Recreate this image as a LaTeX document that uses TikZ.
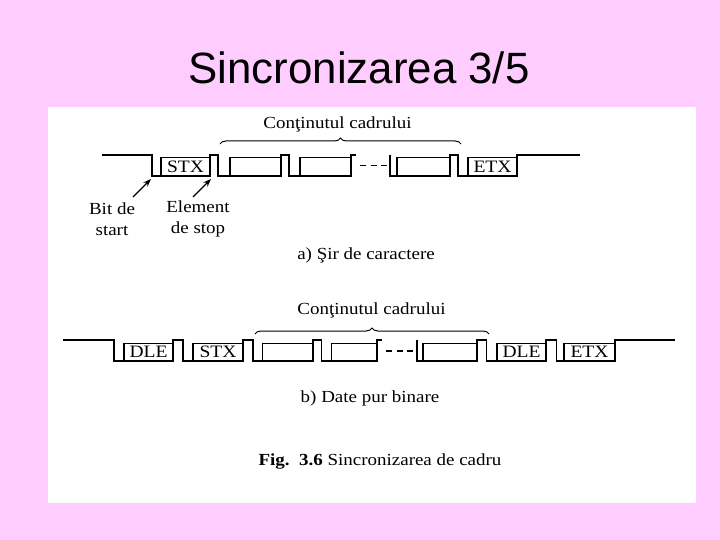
\documentclass[tikz,border=0pt]{standalone}
\usepackage{fontspec}
\setmainfont{Liberation Serif}
\newfontfamily\figfont{Liberation Serif}[FakeStretch=1.12]
\newfontfamily\titlefont{Liberation Sans}
\usetikzlibrary{arrows.meta,decorations.pathreplacing}
\definecolor{slidepink}{RGB}{255,204,255}
\newcommand\cbox[6]{\node[chbox, minimum width={#3-#2}, minimum height={#5-#4}] (#1) at ({(#2+#3)/2},{(#4+#5)/2}) {#6};}
\begin{document}
\begin{tikzpicture}[x=1bp,y=-1bp,
  sig/.style={line width=1.4bp, black, line join=miter},
  chbox/.style={draw, line width=1.4bp, inner sep=0pt, font=\figfont\fontsize{17.5}{20}\selectfont},
  lbl/.style={font=\figfont\fontsize{17}{21}\selectfont, align=center, inner sep=0pt},
  dots/.style={line width=1.4bp, dash pattern=on 6bp off 4.5bp},
  brc/.style={decorate, decoration={brace, amplitude=6bp}, line width=1bp},
  arr/.style={line width=1.2bp, -{Stealth[length=8bp,width=6bp]}}]
\useasboundingbox (0,0) rectangle (720,540);
\fill[slidepink] (0,0) rectangle (720,540);
\fill[white] (48,107) rectangle (696,503);
\node[font=\titlefont\fontsize{44}{50}\selectfont] (title) at (359,68) {Sincronizarea 3/5};

% ---------- row a ----------
\draw[sig] (101.7,155) -- (152,155) -- (152,176) -- (161,176);
\cbox{a1}{161}{210}{157.5}{176}{STX}
\draw[sig] (210,176) -- (210,155) -- (218,155) -- (218,176) -- (230,176);
\cbox{a2}{230}{281}{157.5}{176}{}
\draw[sig] (281,176) -- (281,155) -- (289,155) -- (289,176) -- (300,176);
\cbox{a3}{300}{351}{157.5}{176}{}
\draw[sig] (351,176) -- (351,155) -- (356,155);
\draw[dots] (360,165.5) -- (387,165.5);
\draw[sig] (390,155) -- (390,176) -- (397,176);
\cbox{a4}{397}{450}{157.5}{176}{}
\draw[sig] (450,176) -- (450,155) -- (458,155) -- (458,176) -- (468,176);
\cbox{a5}{468}{517}{157.5}{176}{ETX}
\draw[sig] (517,176) -- (517,155) -- (580,155);
\draw[brc] (220,144) -- (461,144);
\node[lbl] (conta) at (337.5,124) {Conţinutul cadrului};
\node[lbl] (bit) at (112,219) {Bit de\\start};
\node[lbl] (elem) at (198,219) {Element\\de stop};
\coordinate (bitt) at (133,197);
\coordinate (bith) at (151,179);
\coordinate (elt) at (193,197);
\coordinate (elh) at (211,179);
\draw[arr] (bitt) -- (bith);
\draw[arr] (elt) -- (elh);
\node[lbl] (capa) at (366,255) {a) Şir de caractere};

% ---------- row b ----------
\draw[sig] (63,340) -- (114,340) -- (114,361) -- (124,361);
\cbox{b1}{124}{173}{343.5}{361}{DLE}
\draw[sig] (173,361) -- (173,340) -- (183,340) -- (183,361) -- (193,361);
\cbox{b2}{193}{243}{343.5}{361}{STX}
\draw[sig] (243,361) -- (243,340) -- (253,340) -- (253,361) -- (262.5,361);
\cbox{b3}{262.5}{313}{343.5}{361}{}
\draw[sig] (313,361) -- (313,340) -- (321.5,340) -- (321.5,361) -- (331.5,361);
\cbox{b4}{331.5}{377}{343.5}{361}{}
\draw[sig] (377,361) -- (377,340) -- (382,340);
\draw[dots] (386,351) -- (413,351);
\draw[sig] (417,340) -- (417,361) -- (423,361);
\cbox{b5}{423}{477}{343.5}{361}{}
\draw[sig] (477,361) -- (477,340) -- (486.5,340) -- (486.5,361) -- (497,361);
\cbox{b6}{497}{546}{343.5}{361}{DLE}
\draw[sig] (546,361) -- (546,340) -- (556.5,340) -- (556.5,361) -- (564,361);
\cbox{b7}{564}{615}{343.5}{361}{ETX}
\draw[sig] (615,361) -- (615,340) -- (675,340);
\draw[brc] (255,334) -- (489,334);
\node[lbl] (contb) at (371.5,310) {Conţinutul cadrului};
\node[lbl] (capb) at (370,398) {b) Date pur binare};
\node[lbl] (fig) at (380,461) {\textbf{Fig.~~3.6} Sincronizarea de cadru};
\end{tikzpicture}
\end{document}
